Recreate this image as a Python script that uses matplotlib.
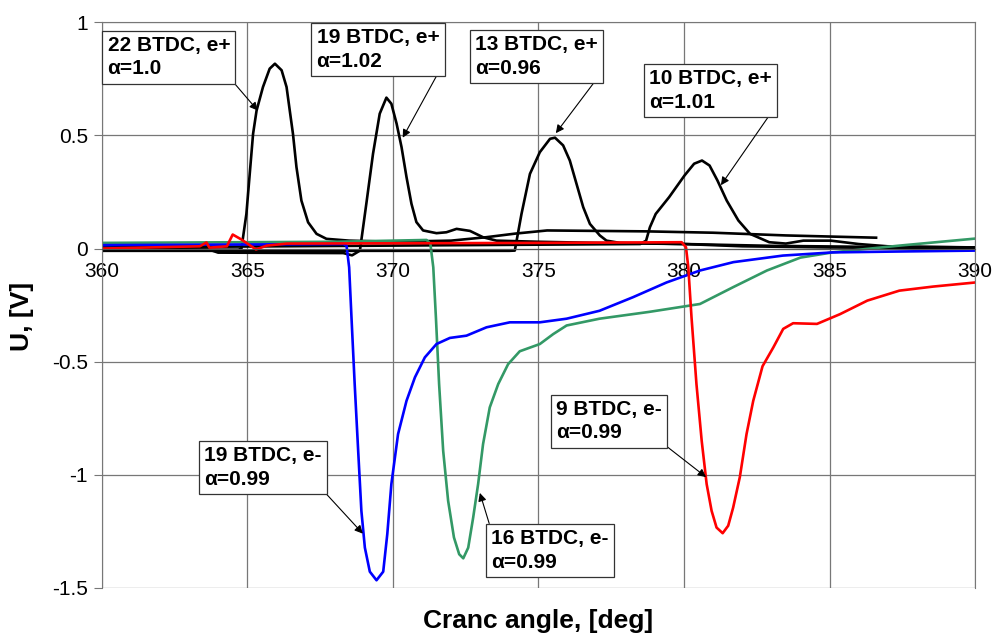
import matplotlib
matplotlib.use("Agg")
import matplotlib.pyplot as plt

plt.rcParams['font.family'] = ['Liberation Sans', 'DejaVu Sans']

# e+ curves (black)
x_22p = [360, 364.7, 364.8, 364.97, 365.2, 365.32, 365.54, 365.77, 365.95, 366.18, 366.35,
         366.46, 366.57, 366.69, 366.86, 367.09, 367.38, 367.72,
         368.5, 370, 372, 373.2, 374.2, 375.3, 378.7, 381, 383.5, 386.6]
y_22p = [-0.005, -0.005, 0.0, 0.153, 0.507, 0.61, 0.714, 0.795, 0.817, 0.788, 0.714,
         0.61, 0.507, 0.36, 0.212, 0.116, 0.065, 0.043,
         0.035, 0.03, 0.035, 0.05, 0.066, 0.08, 0.076, 0.07, 0.058, 0.048]

x_19p = [360, 363.7, 364.0, 368.3, 368.6, 368.87, 369.09, 369.32, 369.55, 369.78, 369.95,
         370.13, 370.3, 370.47, 370.64, 370.81, 371.04, 371.5, 371.84, 372.19, 372.65,
         373.1, 373.56, 375, 377, 380, 383, 386, 390]
y_19p = [0.0, -0.005, -0.018, -0.02, -0.03, -0.009, 0.198, 0.419, 0.596, 0.667, 0.64,
         0.552, 0.448, 0.316, 0.198, 0.117, 0.08, 0.068, 0.072, 0.087, 0.078,
         0.05, 0.035, 0.03, 0.025, 0.02, 0.012, 0.008, 0.005]

x_13p = [360, 374.0, 374.19, 374.42, 374.71, 375.05, 375.4, 375.57, 375.85, 376.08, 376.31,
         376.54, 376.77, 377.11, 377.34, 377.8, 380, 382, 385, 390]
y_13p = [-0.01, -0.01, -0.009, 0.153, 0.33, 0.426, 0.485, 0.49, 0.456, 0.389, 0.286,
         0.183, 0.109, 0.058, 0.035, 0.025, 0.02, 0.01, 0.005, 0.0]

x_10p = [360, 378.5, 378.7, 378.83, 379.03, 379.49, 380.02, 380.35, 380.62, 380.88, 381.15,
         381.47, 381.87, 382.27, 382.93, 383.5, 384.1, 385.05, 386, 387, 390]
y_10p = [0.005, 0.02, 0.035, 0.094, 0.153, 0.227, 0.323, 0.375, 0.389, 0.367, 0.301,
         0.212, 0.124, 0.065, 0.028, 0.022, 0.035, 0.035, 0.02, 0.01, 0.005]

# e- curves
x_19m = [360, 368.3, 368.41, 368.5, 368.58, 368.69, 368.81, 368.92, 369.04, 369.21, 369.44,
         369.67, 369.81, 369.95, 370.18, 370.47, 370.76, 371.1, 371.5, 371.96, 372.53,
         373.22, 374.02, 375.05, 375.97, 377.1, 378.25, 379.4, 380.55, 381.7, 383.4,
         385.1, 387.4, 390]
y_19m = [0.015, 0.02, 0.013, -0.083, -0.304, -0.599, -0.894, -1.159, -1.322, -1.428, -1.466,
         -1.428, -1.262, -1.041, -0.82, -0.673, -0.569, -0.481, -0.422, -0.395, -0.385,
         -0.348, -0.326, -0.326, -0.31, -0.275, -0.215, -0.15, -0.097, -0.06, -0.031,
         -0.017, -0.013, -0.009]

x_16m = [360, 368, 370, 371.16, 371.29, 371.39, 371.48, 371.59, 371.73, 371.9, 372.1,
         372.28, 372.42, 372.59, 372.76, 372.93, 373.1, 373.33, 373.62, 373.96, 374.36,
         375.05, 375.51, 375.97, 377.1, 378.8, 380.55, 381.7, 382.85, 384.0, 385.1,
         387.4, 390]
y_16m = [0.025, 0.03, 0.035, 0.038, 0.021, -0.083, -0.304, -0.599, -0.894, -1.115, -1.277,
         -1.351, -1.369, -1.322, -1.189, -1.041, -0.864, -0.702, -0.599, -0.511, -0.454,
         -0.422, -0.378, -0.34, -0.31, -0.28, -0.245, -0.17, -0.097, -0.04, -0.017,
         0.013, 0.044]

x_9m = [360, 363.37, 363.6, 363.7, 364.3, 364.5, 364.8, 365.3, 365.67, 366.36, 375, 379.92,
        380.07, 380.15, 380.26, 380.43, 380.61, 380.78, 380.95, 381.12, 381.33, 381.52,
        381.69, 381.92, 382.15, 382.38, 382.7, 383.07, 383.41, 383.75, 384.57, 385.36,
        386.3, 387.4, 388.56, 390]
y_9m = [0.0, 0.01, 0.027, 0.004, 0.01, 0.062, 0.04, -0.004, 0.013, 0.022, 0.025, 0.028,
        0.006, -0.083, -0.304, -0.599, -0.85, -1.041, -1.159, -1.233, -1.258, -1.225,
        -1.145, -1.01, -0.82, -0.673, -0.52, -0.437, -0.355, -0.33, -0.333, -0.29,
        -0.23, -0.186, -0.168, -0.15]

# annotation texts, arrow targets and box anchors
labels = ['22 BTDC, e+\nα=1.0', '19 BTDC, e+\nα=1.02', '13 BTDC, e+\nα=0.96',
          '10 BTDC, e+\nα=1.01', '19 BTDC, e-\nα=0.99', '16 BTDC, e-\nα=0.99',
          '9 BTDC, e-\nα=0.99']
tips = [(365.36, 0.61), (370.34, 0.49), (375.6, 0.51), (381.27, 0.28),
        (368.97, -1.26), (372.99, -1.08), (380.76, -1.01)]
anchors = [(360.2, 0.94), (367.38, 0.973), (372.82, 0.943), (378.8, 0.792),
           (363.51, -0.873), (373.37, -1.24), (375.6, -0.669)]
corners = [(1, 0), (1, 0), (1, 0), (1, 0), (1, 0), (0, 1), (1, 0)]

fig = plt.figure(figsize=(9.97, 6.37), dpi=100)
ax = fig.add_axes([0.102, 0.077, 0.876, 0.888])

ax.plot(x_22p, y_22p, color='black', lw=1.9)
ax.plot(x_19p, y_19p, color='black', lw=1.9)
ax.plot(x_13p, y_13p, color='black', lw=1.9)
ax.plot(x_10p, y_10p, color='black', lw=1.9)
ax.plot(x_16m, y_16m, color='#339966', lw=1.9)
ax.plot(x_19m, y_19m, color='#0000ff', lw=1.9)
ax.plot(x_9m, y_9m, color='#ff0000', lw=1.9)

for txt, tip, anc, rp in zip(labels, tips, anchors, corners):
    ax.annotate(txt, xy=tip, xytext=anc, textcoords='data', ha='left', va='top',
                fontsize=15, fontweight='bold', linespacing=1.3,
                bbox=dict(boxstyle='square,pad=0.25', fc='white', ec='#333333', lw=0.9),
                arrowprops=dict(arrowstyle='-|>', color='black', lw=0.8,
                                mutation_scale=12, relpos=rp, shrinkA=0, shrinkB=0))

ax.set_xlim(360, 390)
ax.set_ylim(-1.5, 1)
ax.set_xticks([360, 365, 370, 375, 380, 385, 390])
ax.set_yticks([-1.5, -1, -0.5, 0, 0.5, 1])
ax.set_yticklabels(['-1.5', '-1', '-0.5', '0', '0.5', '1'])
ax.grid(True, color='#777777', lw=0.9)
ax.set_axisbelow(True)

for side in ['top', 'right', 'left']:
    ax.spines[side].set_color('#777777')
ax.spines['bottom'].set_position(('data', 0))
ax.spines['bottom'].set_color('#555555')
ax.tick_params(axis='x', length=0, pad=10, labelsize=15)
ax.tick_params(axis='y', length=6, color='#777777', pad=4, labelsize=15)

ax.set_xlabel('Cranc angle, [deg]', fontsize=19, fontweight='bold')
ax.xaxis.set_label_coords(0.5, -0.037)
ax.set_ylabel('U, [V]', fontsize=19, fontweight='bold')
ax.yaxis.set_label_coords(-0.077, 0.48)

fig.savefig('out.png', dpi=100)
